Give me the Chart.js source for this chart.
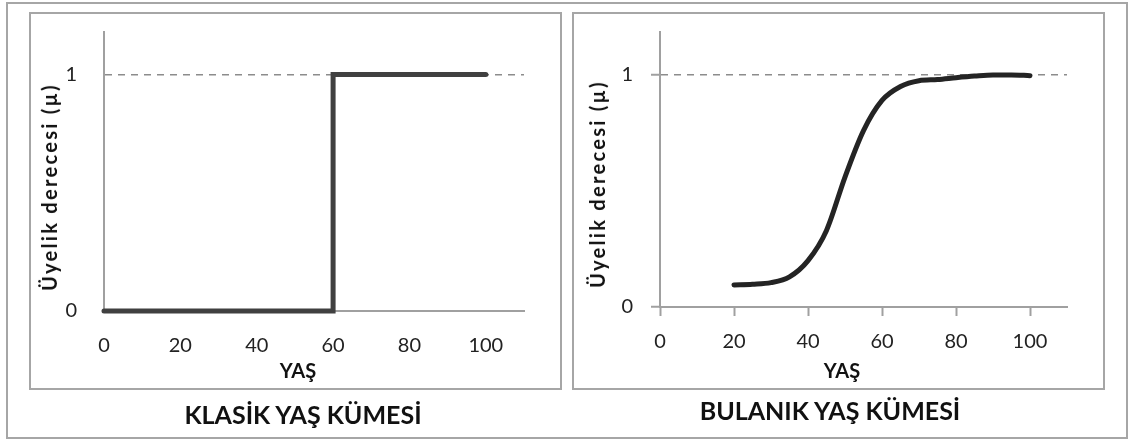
<!DOCTYPE html>
<html>
<head>
<meta charset="utf-8">
<script src="https://cdn.jsdelivr.net/npm/chart.js@4.4.0/dist/chart.umd.min.js"></script>
<style>
  body { margin: 0; background: #fff; width: 1128px; height: 441px; position: relative; overflow: hidden; font-family: Lato, sans-serif; }
  .frame { position: absolute; box-sizing: border-box; border: 2px solid #a6a6a6; }
  .wrap { position: absolute; width: 531px; height: 376px; }
  .lbl { position: absolute; white-space: nowrap; line-height: 1; font-weight: bold; color: #111; transform: translate(-50%, -50%); }
  .ytitle { font-size: 20px; letter-spacing: 2.3px; transform: translate(-50%, -50%) rotate(-90deg); }
  .xtitle { font-size: 20px; }
  .caption { font-size: 25px; }
</style>
</head>
<body>
<div class="frame" style="left:6px;top:2px;width:1122px;height:437px"></div>
<div class="frame" style="left:29px;top:12px;width:533px;height:378px"></div>
<div class="frame" style="left:572px;top:12px;width:533px;height:378px"></div>

<div class="wrap" style="left:30px;top:13px"><canvas id="classic"></canvas></div>
<div class="wrap" style="left:573px;top:13px"><canvas id="fuzzy"></canvas></div>

<div class="lbl ytitle" style="left:49px;top:187px">Üyelik derecesi (µ)</div>
<div class="lbl xtitle" style="left:298px;top:370px">YAŞ</div>
<div class="lbl caption" style="left:303px;top:414px">KLASİK YAŞ KÜMESİ</div>

<div class="lbl ytitle" style="left:597px;top:184px">Üyelik derecesi (µ)</div>
<div class="lbl xtitle" style="left:842px;top:370px">YAŞ</div>
<div class="lbl caption" style="left:830px;top:410px">BULANIK YAŞ KÜMESİ</div>

<script>
const ageTicks = [0, 20, 40, 60, 80, 100];
const muTicks = [0, 1];

// klasik küme: 60 yaşta keskin geçiş
const classicAge = [0, 60, 60, 100];
const classicMu = [0, 0, 1, 1];

// bulanık küme: yumuşak S eğrisi
const fuzzyAge = [20, 25, 30, 35, 40, 45, 50, 55, 60, 65, 70, 75, 80, 85, 90, 95, 100];
const fuzzyMu = [0.095, 0.098, 0.105, 0.13, 0.2, 0.33, 0.56, 0.76, 0.89, 0.95, 0.975, 0.98, 0.988, 0.995, 1.0, 1.0, 0.997];

const axisGray = '#a0a0a0';
const tickFont = { family: 'Lato', size: 20 };

function makeChart(id, ages, mus, opts) {
  const points = ages.map((a, i) => ({ x: a, y: mus[i] }));
  return new Chart(document.getElementById(id), {
    type: 'line',
    data: {
      datasets: [{
        data: points,
        borderColor: opts.lineColor,
        borderWidth: 5,
        borderCapStyle: 'round',
        borderJoinStyle: opts.smooth ? 'round' : 'miter',
        cubicInterpolationMode: opts.smooth ? 'monotone' : 'default',
        pointRadius: 0,
        fill: false,
        clip: false
      }]
    },
    options: {
      responsive: true,
      maintainAspectRatio: false,
      animation: false,
      layout: { padding: { top: 19, right: 37, left: 0, bottom: 0 } },
      plugins: { legend: { display: false }, tooltip: { enabled: false } },
      scales: {
        x: {
          type: 'linear',
          min: 0,
          max: 110,
          afterBuildTicks: s => { s.ticks = ageTicks.map(v => ({ value: v })); },
          afterFit: s => { s.height = opts.xHeight; s.paddingLeft = 0; s.paddingRight = 0; },
          ticks: { padding: 14, font: tickFont, color: '#222', maxRotation: 0, autoSkip: false },
          grid: { drawOnChartArea: false, tickLength: 9, tickWidth: 2, tickColor: opts.ticks ? axisGray : 'rgba(0,0,0,0)' },
          border: { color: axisGray, width: 2 }
        },
        y: {
          type: 'linear',
          min: 0,
          max: opts.yMax,
          afterBuildTicks: s => { s.ticks = muTicks.map(v => ({ value: v })); },
          afterFit: s => { s.width = opts.yWidth; s.paddingTop = 0; s.paddingBottom = 0; },
          ticks: { padding: 18, font: tickFont, color: '#222' },
          grid: {
            color: c => (c.tick && c.tick.value === 1) ? '#8c8c8c' : 'rgba(0,0,0,0)',
            lineWidth: 1.5,
            tickLength: 9,
            tickWidth: 2,
            tickColor: opts.ticks ? axisGray : 'rgba(0,0,0,0)'
          },
          border: { color: axisGray, width: 2, dash: [7, 6] }
        }
      }
    }
  });
}

makeChart('classic', classicAge, classicMu, { lineColor: '#404040', smooth: false, ticks: false, yMax: 1.18, yWidth: 74, xHeight: 78 });
makeChart('fuzzy', fuzzyAge, fuzzyMu, { lineColor: '#242424', smooth: true, ticks: true, yMax: 1.185, yWidth: 87, xHeight: 82 });
</script>
</body>
</html>
